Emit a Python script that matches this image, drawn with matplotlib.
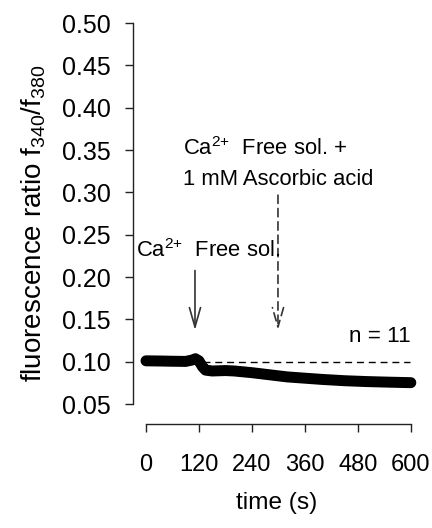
import matplotlib
matplotlib.use("Agg")
import matplotlib.pyplot as plt

plt.rcParams['font.family'] = ['Liberation Sans', 'DejaVu Sans']
plt.rcParams['mathtext.fontset'] = 'custom'
plt.rcParams['mathtext.rm'] = 'Liberation Sans'
plt.rcParams['mathtext.it'] = 'Liberation Sans'

# trace
time_s = [0, 30, 60, 90, 105, 112, 120, 128, 135, 150, 180, 200, 240, 280, 320, 360, 400, 450, 500, 550, 600]
ratio = [0.101, 0.1008, 0.1005, 0.1003, 0.102, 0.1035, 0.101, 0.094, 0.090, 0.089, 0.0895, 0.089,
         0.087, 0.0845, 0.082, 0.0805, 0.079, 0.0775, 0.0765, 0.0758, 0.0752]
baseline = 0.10
x_ticks = [0, 120, 240, 360, 480, 600]
y_ticks = [0.05, 0.10, 0.15, 0.20, 0.25, 0.30, 0.35, 0.40, 0.45, 0.50]

fig = plt.figure(figsize=(4.32, 5.28), dpi=100)
ax = fig.add_axes([0.3079, 0.197, 0.951 - 0.3079, 0.9564 - 0.197])

ax.plot(time_s, ratio, color='black', lw=7.9, solid_capstyle='round', clip_on=False, zorder=3)
ax.plot([130, 598], [baseline, baseline], color='black', lw=1.0, dashes=(5, 3.5))

ax.set_xlim(-29.4, 600)
ax.set_ylim(0.0264, 0.50)
ax.spines['top'].set_visible(False)
ax.spines['right'].set_visible(False)
ax.spines['left'].set_bounds(0.05, 0.50)
ax.spines['bottom'].set_bounds(0, 600)
for s in ('left', 'bottom'):
    ax.spines[s].set_linewidth(1.0)
    ax.spines[s].set_color('#222222')

ax.set_xticks(x_ticks)
ax.set_xticklabels([str(t) for t in x_ticks])
ax.set_yticks(y_ticks)
ax.set_yticklabels(['%.2f' % v for v in y_ticks])
ax.tick_params(axis='both', direction='out', length=5.8, width=1.0, color='#222222')
ax.tick_params(axis='y', pad=10, labelsize=18)
ax.tick_params(axis='x', pad=16, labelsize=17)

ax.set_xlabel('time (s)', fontsize=17.6)
ax.xaxis.set_label_coords(0.518, -0.17)
ax.set_ylabel(r'fluorescence ratio f$_{340}$/f$_{380}$', fontsize=20, labelpad=10)

# solution change markers
ax.annotate('', xy=(111, 0.134), xytext=(111, 0.211),
            arrowprops=dict(arrowstyle='->,head_length=1.4,head_width=0.4', color='#333333', lw=1.2))
ax.annotate('', xy=(299, 0.134), xytext=(299, 0.300),
            arrowprops=dict(arrowstyle='->,head_length=1.4,head_width=0.4', color='#333333', lw=1.2,
                            linestyle=(0, (5, 3))))

ax.text(-23, 0.2238, r'Ca$^{\text{2+}}$  Free sol.', fontsize=15.8, ha='left', va='baseline')
ax.text(84, 0.344, r'Ca$^{\text{2+}}$  Free sol. +', fontsize=15.8, ha='left', va='baseline')
ax.text(84, 0.309, '1 mM Ascorbic acid', fontsize=15.8, ha='left', va='baseline')
ax.text(600, 0.130, 'n = 11', fontsize=16.2, ha='right', va='center')

fig.savefig('out.png', dpi=100)
